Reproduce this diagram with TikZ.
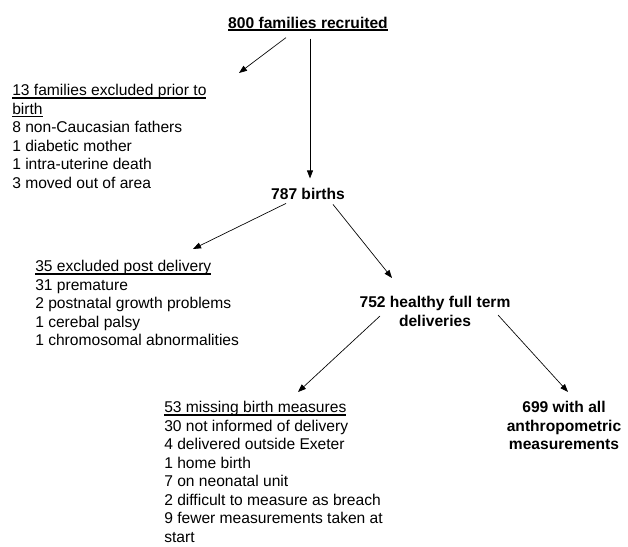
\documentclass[tikz,border=0pt]{standalone}
\usepackage{fontspec}
\setmainfont{Liberation Sans}
\usetikzlibrary{calc,arrows.meta}
\def\fsz{\fontsize{11.7}{13.9}\selectfont}
\newcommand\ulbar[2][1.2pt]{\setbox0\hbox{#2}\rlap{\rule[-2.5pt]{\wd0}{#1}}\box0}

\begin{document}
\begin{tikzpicture}[x=0.75pt,y=-0.75pt,
    txt/.style={inner sep=0pt,font=\fsz,align=left},
    head/.style={inner sep=0pt,font=\fsz\bfseries,align=center},
    arr/.style={-{Triangle[length=6pt,width=4.5pt]},line width=0.5pt}]

\useasboundingbox (0,0) rectangle (628,546);

\node[head,anchor=base] (rec) at (308,28) {\ulbar[1.6pt]{800 families recruited}};

\node[txt,anchor=north west] (excl1) at (12,84) {\ulbar{13 families excluded prior to}\\
    \ulbar{birth}\\
    8 non-Caucasian fathers\\
    1 diabetic mother\\
    1 intra-uterine death\\
    3 moved out of area};

\node[head,anchor=base] (births) at (308,199) {787 births};

\node[txt,anchor=north west] (excl2) at (35,260) {\ulbar{35 excluded post delivery}\\
    31 premature\\
    2 postnatal growth problems\\
    1 cerebal palsy\\
    1 chromosomal abnormalities};

\node[head,anchor=north] (healthy) at (435,296) {752 healthy full term\\deliveries};

\node[txt,anchor=north west] (missing) at (164,401) {\ulbar{53 missing birth measures}\\
    30 not informed of delivery\\
    4 delivered outside Exeter\\
    1 home birth\\
    7 on neonatal unit\\
    2 difficult to measure as breach\\
    9 fewer measurements taken at\\
    start};

\node[head,anchor=north] (allm) at (564,401) {699 with all\\anthropometric\\measurements};


\draw[arr] ($(rec.south)+(-22,6)$) -- ($(excl1.north west)+(227,-11)$);
\draw[arr] ($(rec.south)+(2,7)$) -- ($(births.north)+(2,-9)$);

\draw[arr] ($(births.south)+(-22,4)$) -- ($(excl2.north west)+(158,-11)$);
\draw[arr] ($(births.south)+(25,5)$) -- ($(healthy.north)+(-43,-18)$);

\draw[arr] ($(healthy.north)+(-55,20)$) -- ($(missing.north west)+(134,-9)$);
\draw[arr] ($(healthy.north)+(63,19)$) -- ($(allm.north)+(4,-9)$);


\end{tikzpicture}
\end{document}
